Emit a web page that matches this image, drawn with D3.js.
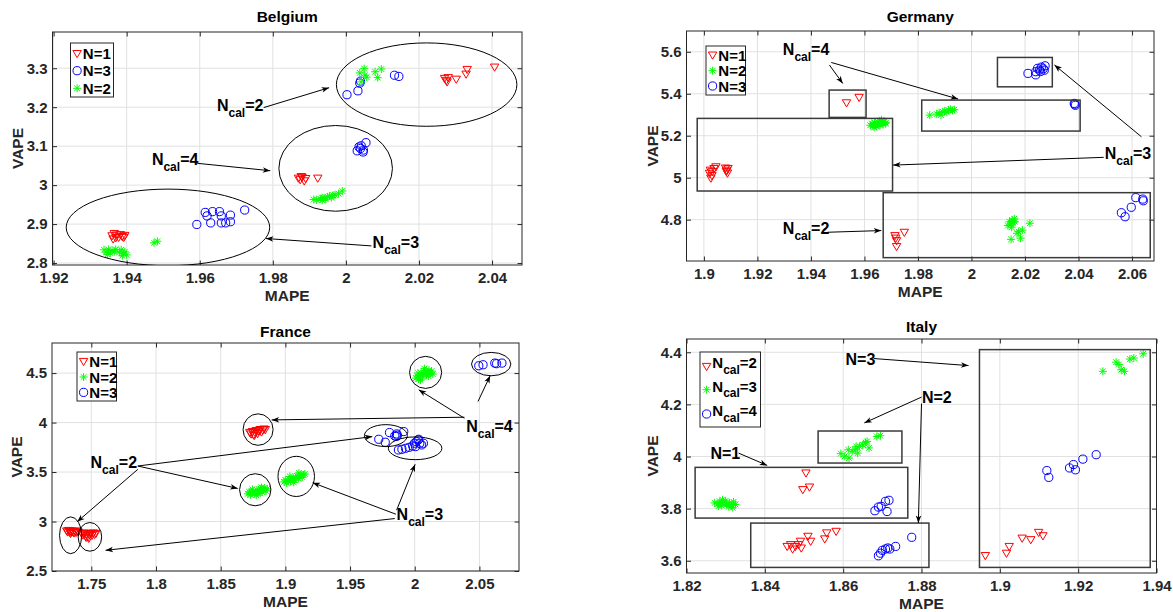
<!DOCTYPE html>
<html>
<head>
<meta charset="utf-8">
<script src="https://cdn.jsdelivr.net/npm/d3@7"></script>
<style>
    body { margin: 0; background: #fff; }
    text { font-family: "Liberation Sans", Arial, Helvetica, sans-serif; font-weight: bold; }
</style>
</head>
<body>
<svg id="chart" width="1173" height="612"></svg>
<script>
/**
 * Tick values.
 */
const belXTicks = [1.92, 1.94, 1.96, 1.98, 2, 2.02, 2.04],
    belYTicks = [2.8, 2.9, 3, 3.1, 3.2, 3.3],
    gerXTicks = [1.9, 1.92, 1.94, 1.96, 1.98, 2, 2.02, 2.04, 2.06],
    gerYTicks = [4.8, 5, 5.2, 5.4, 5.6],
    fraXTicks = [1.75, 1.8, 1.85, 1.9, 1.95, 2, 2.05],
    fraYTicks = [2.5, 3, 3.5, 4, 4.5],
    itaXTicks = [1.82, 1.84, 1.86, 1.88, 1.9, 1.92, 1.94],
    itaYTicks = [3.6, 3.8, 4, 4.2, 4.4];

/**
 * Series values, [MAPE, VAPE].
 */
// Belgium
const belN1 = [
    [1.9360, 2.870], [1.9366, 2.876], [1.9372, 2.872], [1.9378, 2.866], [1.9363, 2.862],
    [1.9383, 2.873], [1.9388, 2.868], [1.9395, 2.871], [1.9370, 2.865], [1.9392, 2.866],
    [1.9870, 3.018], [1.9875, 3.014], [1.9880, 3.020], [1.9886, 3.011], [1.9890, 3.017],
    [1.9878, 3.022], [1.9923, 3.018],
    [2.0270, 3.274], [2.0275, 3.269], [2.0280, 3.276], [2.0277, 3.265], [2.0302, 3.272],
    [2.0329, 3.285], [2.0332, 3.297], [2.0407, 3.303]
];
const belN3 = [
    [1.9592, 2.899], [1.9615, 2.930], [1.9620, 2.921], [1.9630, 2.903], [1.9635, 2.932],
    [1.9654, 2.932], [1.9659, 2.921], [1.9659, 2.903], [1.9671, 2.903], [1.9684, 2.923],
    [1.9684, 2.906], [1.9723, 2.936],
    [2.0031, 3.088], [2.0036, 3.098], [2.0042, 3.101], [2.0048, 3.090], [2.0055, 3.109],
    [2.0040, 3.094], [2.0047, 3.085],
    [2.0003, 3.232], [2.0033, 3.242], [2.0038, 3.262], [2.0040, 3.267], [2.0133, 3.282],
    [2.0145, 3.279]
];
const belN2 = [
    [1.9338, 2.834], [1.9344, 2.828], [1.9350, 2.835], [1.9355, 2.826], [1.9360, 2.832],
    [1.9366, 2.829], [1.9370, 2.835], [1.9348, 2.822], [1.9380, 2.828], [1.9385, 2.834],
    [1.9390, 2.824], [1.9395, 2.829], [1.9400, 2.821], [1.9388, 2.819], [1.9475, 2.852],
    [1.9484, 2.856],
    [1.9912, 2.963], [1.9920, 2.962], [1.9930, 2.965], [1.9935, 2.961], [1.9940, 2.967],
    [1.9945, 2.964], [1.9950, 2.970], [1.9955, 2.972], [1.9960, 2.968], [1.9965, 2.974],
    [1.9970, 2.975], [1.9980, 2.978], [1.9990, 2.985], [1.9935, 2.968],
    [2.0038, 3.288], [2.0042, 3.265], [2.0050, 3.299], [2.0052, 3.282], [2.0057, 3.277],
    [2.0080, 3.291], [2.0087, 3.276], [2.0097, 3.298]
];

// Germany
const gerN1 = [
    [1.9021, 5.021], [1.9026, 4.998], [1.9024, 5.036], [1.9032, 5.030], [1.9038, 5.044],
    [1.9045, 5.052], [1.9030, 5.010], [1.9081, 5.046], [1.9085, 5.036], [1.9088, 5.022],
    [1.9090, 5.044], [1.9084, 5.030],
    [1.9533, 5.357], [1.9580, 5.383],
    [1.9714, 4.724], [1.9717, 4.712], [1.9720, 4.700], [1.9720, 4.672], [1.9749, 4.740]
];
const gerN2 = [
    [1.9622, 5.250], [1.9628, 5.258], [1.9632, 5.246], [1.9638, 5.262], [1.9642, 5.254],
    [1.9646, 5.244], [1.9650, 5.266], [1.9654, 5.258], [1.9658, 5.250], [1.9662, 5.270],
    [1.9666, 5.262], [1.9670, 5.254], [1.9674, 5.266], [1.9678, 5.258], [1.9664, 5.276],
    [1.9636, 5.240], [1.9680, 5.262],
    [1.9844, 5.298], [1.9870, 5.303], [1.9879, 5.310], [1.9886, 5.298], [1.9893, 5.314],
    [1.9900, 5.318], [1.9908, 5.312], [1.9914, 5.322], [1.9922, 5.326], [1.9929, 5.320],
    [1.9936, 5.324],
    [2.0136, 4.772], [2.0142, 4.790], [2.0148, 4.780], [2.0152, 4.798], [2.0156, 4.786],
    [2.0160, 4.804], [2.0150, 4.764], [2.0162, 4.790], [2.0148, 4.706], [2.0176, 4.743],
    [2.0183, 4.712], [2.0170, 4.735], [2.0190, 4.750], [2.0218, 4.783]
];
const gerN3 = [
    [2.0211, 5.497], [2.0240, 5.505], [2.0247, 5.521], [2.0254, 5.513], [2.0261, 5.527],
    [2.0268, 5.519], [2.0275, 5.533], [2.0240, 5.490], [2.0258, 5.506], [2.0272, 5.512],
    [2.0384, 5.354], [2.0388, 5.345], [2.0386, 5.350],
    [2.0560, 4.833], [2.0574, 4.814], [2.0597, 4.859], [2.0614, 4.905], [2.0640, 4.898],
    [2.0642, 4.890]
];

// France
const fraN1 = [
    [1.7310, 2.905], [1.7318, 2.895], [1.7326, 2.910], [1.7334, 2.900], [1.7342, 2.890],
    [1.7350, 2.905], [1.7358, 2.895], [1.7366, 2.885], [1.7374, 2.900], [1.7382, 2.890],
    [1.7390, 2.905], [1.7398, 2.895], [1.7338, 2.880],
    [1.7425, 2.880], [1.7435, 2.865], [1.7445, 2.885], [1.7455, 2.855], [1.7465, 2.875],
    [1.7475, 2.845], [1.7485, 2.870], [1.7495, 2.880], [1.7505, 2.860], [1.7515, 2.885],
    [1.7525, 2.870], [1.7535, 2.880], [1.7480, 2.830], [1.7460, 2.840],
    [1.8725, 3.900], [1.8735, 3.885], [1.8745, 3.910], [1.8755, 3.875], [1.8765, 3.900],
    [1.8775, 3.920], [1.8785, 3.890], [1.8795, 3.915], [1.8805, 3.930], [1.8815, 3.905],
    [1.8825, 3.925], [1.8835, 3.935], [1.8845, 3.930], [1.8760, 3.870]
];
const fraN2 = [
    [1.8710, 3.280], [1.8720, 3.300], [1.8730, 3.270], [1.8740, 3.290], [1.8750, 3.310],
    [1.8760, 3.280], [1.8770, 3.300], [1.8780, 3.320], [1.8790, 3.290], [1.8800, 3.310],
    [1.8810, 3.330], [1.8820, 3.300], [1.8830, 3.320], [1.8840, 3.340], [1.8850, 3.310],
    [1.8860, 3.330], [1.8775, 3.265], [1.8805, 3.285], [1.8745, 3.325], [1.8815, 3.345],
    [1.8990, 3.400], [1.9000, 3.420], [1.9010, 3.390], [1.9020, 3.410], [1.9030, 3.430],
    [1.9040, 3.405], [1.9050, 3.425], [1.9060, 3.445], [1.9070, 3.420], [1.9080, 3.440],
    [1.9090, 3.460], [1.9100, 3.435], [1.9110, 3.455], [1.9120, 3.475], [1.9130, 3.450],
    [1.9140, 3.470], [1.9150, 3.480], [1.9065, 3.395], [1.9035, 3.455], [1.9105, 3.490],
    [2.0010, 4.450], [2.0020, 4.470], [2.0030, 4.440], [2.0040, 4.480], [2.0050, 4.500],
    [2.0060, 4.460], [2.0070, 4.490], [2.0080, 4.520], [2.0090, 4.480], [2.0100, 4.510],
    [2.0110, 4.530], [2.0120, 4.500], [2.0130, 4.520], [2.0140, 4.490], [2.0075, 4.545],
    [2.0045, 4.430], [2.0105, 4.470], [2.0025, 4.500]
];
const fraN3 = [
    [1.9722, 3.831], [1.9772, 3.801], [1.9805, 3.899], [1.9846, 3.865], [1.9860, 3.885],
    [1.9866, 3.872], [1.9915, 3.909], [1.9858, 3.860],
    [1.9874, 3.723], [1.9901, 3.730], [1.9929, 3.740], [1.9957, 3.750], [1.9984, 3.764],
    [1.9998, 3.791], [2.0012, 3.807], [2.0026, 3.824], [2.0039, 3.791], [2.0053, 3.774],
    [2.0006, 3.757], [2.0031, 3.831], [2.0067, 3.791],
    [2.0495, 4.574], [2.0528, 4.584], [2.0619, 4.601], [2.0633, 4.595], [2.0674, 4.601]
];

// Italy
const itaC2 = [
    [1.8505, 3.937], [1.8514, 3.883], [1.8497, 3.873],
    [1.8457, 3.655], [1.8466, 3.662], [1.8471, 3.645], [1.8478, 3.655], [1.8486, 3.662],
    [1.8491, 3.675], [1.8493, 3.649], [1.8510, 3.694], [1.8517, 3.675], [1.8553, 3.684],
    [1.8558, 3.707], [1.8582, 3.713],
    [1.8963, 3.620], [1.9017, 3.629], [1.9024, 3.655], [1.9057, 3.687], [1.9079, 3.681],
    [1.9099, 3.709], [1.9110, 3.696]
];
const itaC3 = [
    [1.8272, 3.822], [1.8280, 3.818], [1.8285, 3.828], [1.8290, 3.812], [1.8295, 3.824],
    [1.8300, 3.830], [1.8302, 3.816], [1.8308, 3.808], [1.8310, 3.822], [1.8315, 3.812],
    [1.8320, 3.826], [1.8325, 3.816], [1.8292, 3.834], [1.8318, 3.804], [1.8282, 3.810],
    [1.8594, 4.011], [1.8604, 4.001], [1.8615, 3.994], [1.8623, 4.020], [1.8631, 4.026],
    [1.8637, 4.013], [1.8642, 4.039], [1.8650, 4.045], [1.8657, 4.054], [1.8666, 4.033],
    [1.8686, 4.077], [1.8695, 4.080], [1.8613, 4.026], [1.8633, 4.039], [1.8661, 4.058],
    [1.9263, 4.327], [1.9297, 4.362], [1.9304, 4.353], [1.9310, 4.333], [1.9318, 4.327],
    [1.9332, 4.374], [1.9342, 4.378], [1.9366, 4.394]
];
const itaC4 = [
    [1.8681, 3.792], [1.8690, 3.806], [1.8697, 3.809], [1.8708, 3.828], [1.8717, 3.832],
    [1.8712, 3.789],
    [1.8690, 3.619], [1.8695, 3.629], [1.8700, 3.640], [1.8708, 3.645], [1.8714, 3.649],
    [1.8719, 3.645], [1.8734, 3.655], [1.8775, 3.690],
    [1.9120, 3.946], [1.9125, 3.920], [1.9178, 3.956], [1.9188, 3.969], [1.9193, 3.949],
    [1.9212, 3.990], [1.9246, 4.007]
];

/**
 * Legend labels.
 */
const belLegend = ['N=1', 'N=3', 'N=2'],
    gerLegend = ['N=1', 'N=2', 'N=3'],
    fraLegend = ['N=1', 'N=2', 'N=3'],
    itaLegend = ['N_cal=2', 'N_cal=3', 'N_cal=4'];

/**
 * Visual configs.
 */
const red = '#ff0000', green = '#00ff00', blue = '#0000ff',
    axisColor = '#262626', gridColor = '#e1e1e1';

const symbols = {
    tri: 'M-4.2,-3L4.2,-3L0,4.2Z',
    star: 'M-4,0H4M0,-4V4M-2.9,-2.9L2.9,2.9M-2.9,2.9L2.9,-2.9'
};

const panels = [
    {
        id: 'bel', title: 'Belgium', titleY: 22, box: [52.5, 32, 522, 265],
        xDomain: [1.9197, 2.0482], yDomain: [2.795, 3.393], xTicks: belXTicks, yTicks: belYTicks, yLabelGap: 30,
        series: [{ data: belN1, type: 'tri', color: red }, { data: belN3, type: 'circle', color: blue }, { data: belN2, type: 'star', color: green }],
        legend: { labels: belLegend, x: 18, y: 11, w: 43, h: 54, rows: [10.5, 27.7, 45.3], textDy: 5.5 },
        ellipses: [[2.0221, 3.258, 0.0247, 0.107], [1.9972, 3.043, 0.01554, 0.110], [1.9513, 2.8915, 0.02785, 0.0983]],
        rects: [],
        texts: [['N_cal=2', 1.9647, 3.190], ['N_cal=4', 1.9469, 3.051], ['N_cal=3', 2.0073, 2.838]],
        arrows: [[1.9775, 3.199, 1.9954, 3.250], [1.9593, 3.056, 1.9793, 3.037], [2.0070, 2.844, 1.9781, 2.863]]
    },
    {
        id: 'ger', title: 'Germany', titleY: 22, box: [686.5, 31, 1154, 261],
        xDomain: [1.8935, 2.0682], yDomain: [4.603, 5.699], xTicks: gerXTicks, yTicks: gerYTicks, yLabelGap: 29,
        series: [{ data: gerN1, type: 'tri', color: red }, { data: gerN2, type: 'star', color: green }, { data: gerN3, type: 'circle', color: blue }],
        legend: { labels: gerLegend, x: 19.5, y: 15, w: 39.5, h: 49, rows: [9, 24.7, 40], textDy: 5.5 },
        ellipses: [],
        rects: [[1.8975, 1.9705, 4.9365, 5.2825], [1.9468, 1.9606, 5.2873, 5.4175], [1.9814, 2.0406, 5.2222, 5.3698],
            [2.0097, 2.0302, 5.433, 5.573], [1.9670, 2.0668, 4.619, 4.9286]],
        texts: [['N_cal=4', 1.9295, 5.584], ['N_cal=3', 2.0498, 5.089], ['N_cal=2', 1.9295, 4.730]],
        arrows: [[1.9469, 5.537, 1.9519, 5.449], [1.9476, 5.549, 1.9950, 5.375], [2.0635, 5.195, 2.0310, 5.537],
            [2.0494, 5.097, 1.9707, 5.060], [1.9462, 4.740, 1.9663, 4.748]]
    },
    {
        id: 'fra', title: 'France', titleY: 337, box: [52, 343, 519, 571],
        xDomain: [1.7196, 2.0806], yDomain: [2.5, 4.804], xTicks: fraXTicks, yTicks: fraYTicks, yLabelGap: 30,
        series: [{ data: fraN1, type: 'tri', color: red }, { data: fraN2, type: 'star', color: green }, { data: fraN3, type: 'circle', color: blue }],
        legend: { labels: fraLegend, x: 25, y: 9, w: 39.5, h: 49, rows: [9.4, 25, 40.4], textDy: 5.5 },
        ellipses: [[1.7340, 2.861, 0.00856, 0.186], [1.7489, 2.845, 0.0091, 0.145], [1.8789, 3.929, 0.0116, 0.159],
            [1.8767, 3.321, 0.0121, 0.162], [1.9084, 3.456, 0.0141, 0.203], [2.0084, 4.507, 0.0124, 0.162],
            [2.0591, 4.591, 0.0152, 0.118], [1.9777, 3.868, 0.0166, 0.111], [2.0003, 3.740, 0.0207, 0.115]],
        rects: [],
        texts: [['N_cal=2', 1.7494, 3.537], ['N_cal=4', 2.0398, 3.902], ['N_cal=3', 1.9860, 3.014]],
        arrows: [[1.7859, 3.561, 1.9672, 3.858], [1.7859, 3.561, 1.8632, 3.334], [1.7859, 3.527, 1.7390, 2.997],
            [2.0384, 4.054, 1.8894, 4.027], [2.0384, 4.044, 2.0031, 4.331], [2.0489, 4.213, 2.0583, 4.473],
            [1.9854, 3.074, 1.9211, 3.392], [1.9860, 3.115, 2.0003, 3.578], [1.9846, 3.030, 1.7610, 2.709]]
    },
    {
        id: 'ita', title: 'Italy', titleY: 332, box: [686.5, 339, 1156.5, 573],
        xDomain: [1.82, 1.94], yDomain: [3.553, 4.451], xTicks: itaXTicks, yTicks: itaYTicks, yLabelGap: 29,
        series: [{ data: itaC2, type: 'tri', color: red }, { data: itaC3, type: 'star', color: green }, { data: itaC4, type: 'circle', color: blue }],
        legend: { labels: itaLegend, x: 13.5, y: 13, w: 60.5, h: 75, rows: [14.4, 37.7, 62], textDy: 2 },
        ellipses: [],
        rects: [[1.8222, 1.8765, 3.7638, 3.9584], [1.8536, 1.8750, 3.975, 4.0979], [1.8364, 1.8819, 3.5744, 3.7446],
            [1.8948, 1.9384, 3.5744, 4.4102]],
        texts: [['N=3', 1.8606, 4.353], ['N=2', 1.8801, 4.205], ['N=1', 1.8261, 3.990]],
        arrows: [[1.8678, 4.376, 1.8920, 4.349], [1.8800, 4.228, 1.8654, 4.129], [1.8800, 4.203, 1.8792, 3.745],
            [1.8333, 4.013, 1.8406, 3.966]]
    }
];

const svg = d3.select('#chart');

// Arrow head
svg.append('defs').append('marker')
    .attr('id', 'head')
    .attr('markerUnits', 'userSpaceOnUse')
    .attr('markerWidth', 12).attr('markerHeight', 12)
    .attr('refX', 0).attr('refY', 0)
    .attr('viewBox', '-10 -6 12 12')
    .attr('orient', 'auto')
    .append('path')
        .attr('d', 'M0,0L-7.5,-2.8L-5.5,0L-7.5,2.8Z')
        .attr('fill', '#000');

panels.forEach(p => drawPanel(p));

/**
 * Number format used by MATLAB: no trailing zeros.
 */
function fmt(d) {
    return String(+d.toFixed(3));
}

/**
 * Writes a label such as N_cal=2 with a subscript.
 */
function richText(text, label, size, subSize, subShift) {
    const parts = label.split('_cal');
    if (parts.length === 1) {
        text.append('tspan').attr('font-size', size).text(label);
        return;
    }
    text.append('tspan').attr('font-size', size).text(parts[0]);
    text.append('tspan').attr('font-size', subSize).attr('dy', subShift).text('cal');
    text.append('tspan').attr('font-size', size).attr('dy', -subShift).text(parts[1]);
}

/**
 * Draws a point marker.
 */
function drawMarker(g, type, color, cx, cy) {
    if (type === 'circle') {
        g.append('circle').attr('cx', cx).attr('cy', cy).attr('r', 4.1)
            .attr('fill', 'none').attr('stroke', color).attr('stroke-width', 1);
    } else {
        g.append('path').attr('d', symbols[type])
            .attr('transform', `translate(${cx},${cy})`)
            .attr('fill', 'none').attr('stroke', color).attr('stroke-width', 1);
    }
}

/**
 * Draws one subplot.
 */
function drawPanel(p) {
    const [x0, y0, x1, y1] = p.box;
    const x = d3.scaleLinear().domain(p.xDomain).range([x0, x1]),
        y = d3.scaleLinear().domain(p.yDomain).range([y1, y0]);

    const g = svg.append('g').attr('class', 'panel-' + p.id);

    g.append('clipPath').attr('id', 'clip-' + p.id)
        .append('rect').attr('x', x0).attr('y', y0).attr('width', x1 - x0).attr('height', y1 - y0);

    // Grid
    const grid = g.append('g').attr('stroke', gridColor).attr('stroke-width', 1);
    grid.selectAll('.gx').data(p.xTicks).join('line').attr('class', 'gx')
        .attr('x1', d => x(d)).attr('x2', d => x(d)).attr('y1', y0).attr('y2', y1);
    grid.selectAll('.gy').data(p.yTicks).join('line').attr('class', 'gy')
        .attr('x1', x0).attr('x2', x1).attr('y1', d => y(d)).attr('y2', d => y(d));

    // Axes
    const styleAxis = sel => {
        sel.attr('color', axisColor).attr('font-size', 15);
        sel.select('.domain').remove();
        sel.selectAll('text').attr('fill', axisColor).attr('font-size', 15);
    };
    g.append('g').attr('transform', `translate(0,${y1})`)
        .call(d3.axisBottom(x).tickValues(p.xTicks).tickFormat(fmt).tickSizeInner(-4.5).tickSizeOuter(0).tickPadding(7.5))
        .call(styleAxis);
    g.append('g').attr('transform', `translate(${x0},0)`)
        .call(d3.axisLeft(y).tickValues(p.yTicks).tickFormat(fmt).tickSizeInner(-4.5).tickSizeOuter(0).tickPadding(5))
        .call(styleAxis);
    g.append('g').attr('transform', `translate(0,${y0})`)
        .call(d3.axisTop(x).tickValues(p.xTicks).tickFormat('').tickSizeInner(-4.5).tickSizeOuter(0))
        .call(styleAxis);
    g.append('g').attr('transform', `translate(${x1},0)`)
        .call(d3.axisRight(y).tickValues(p.yTicks).tickFormat('').tickSizeInner(-4.5).tickSizeOuter(0))
        .call(styleAxis);

    g.append('rect').attr('x', x0).attr('y', y0).attr('width', x1 - x0).attr('height', y1 - y0)
        .attr('fill', 'none').attr('stroke', axisColor).attr('stroke-width', 1);

    // Titles
    g.append('text').attr('x', (x0 + x1) / 2).attr('y', p.titleY)
        .attr('text-anchor', 'middle').attr('font-size', 15.5).attr('fill', '#000').text(p.title);
    g.append('text').attr('x', (x0 + x1) / 2).attr('y', y1 + 36)
        .attr('text-anchor', 'middle').attr('font-size', 15.5).attr('fill', axisColor).text('MAPE');
    g.append('text')
        .attr('transform', `translate(${x0 - p.yLabelGap},${(y0 + y1) / 2}) rotate(-90)`)
        .attr('text-anchor', 'middle').attr('font-size', 15.5).attr('fill', axisColor).text('VAPE');

    // Points
    const items = g.append('g').attr('clip-path', `url(#clip-${p.id})`);
    p.series.forEach(s => {
        s.data.forEach(d => drawMarker(items, s.type, s.color, x(d[0]), y(d[1])));
    });

    // Annotations
    const notes = g.append('g').attr('clip-path', `url(#clip-${p.id})`)
        .attr('fill', 'none');
    notes.selectAll('ellipse').data(p.ellipses).join('ellipse')
        .attr('cx', d => x(d[0])).attr('cy', d => y(d[1]))
        .attr('rx', d => x(d[0] + d[2]) - x(d[0])).attr('ry', d => y(d[1]) - y(d[1] + d[3]))
        .attr('stroke', '#000').attr('stroke-width', 1);
    notes.selectAll('rect').data(p.rects).join('rect')
        .attr('x', d => x(d[0])).attr('y', d => y(d[3]))
        .attr('width', d => x(d[1]) - x(d[0])).attr('height', d => y(d[2]) - y(d[3]))
        .attr('stroke', '#3a3a3a').attr('stroke-width', 1.5);

    g.append('g').selectAll('line').data(p.arrows).join('line')
        .attr('x1', d => x(d[0])).attr('y1', d => y(d[1]))
        .attr('x2', d => x(d[2])).attr('y2', d => y(d[3]))
        .attr('stroke', '#000').attr('stroke-width', 1)
        .attr('marker-end', 'url(#head)');

    p.texts.forEach(t => {
        const text = g.append('text').attr('x', x(t[1])).attr('y', y(t[2])).attr('fill', '#000');
        richText(text, t[0], 16, 12, 5.5);
    });

    // Legend
    const lg = p.legend;
    const legend = g.append('g').attr('transform', `translate(${x0 + lg.x},${y0 + lg.y})`);
    legend.append('rect').attr('width', lg.w).attr('height', lg.h)
        .attr('fill', '#fff').attr('stroke', axisColor).attr('stroke-width', 1);
    lg.labels.forEach((label, i) => {
        const s = p.series[i];
        drawMarker(legend, s.type, s.color, 6.6, lg.rows[i]);
        const text = legend.append('text').attr('x', 12.3).attr('y', lg.rows[i] + lg.textDy).attr('fill', '#000');
        richText(text, label, 15, 12, 5.5);
    });
}
</script>
</body>
</html>
